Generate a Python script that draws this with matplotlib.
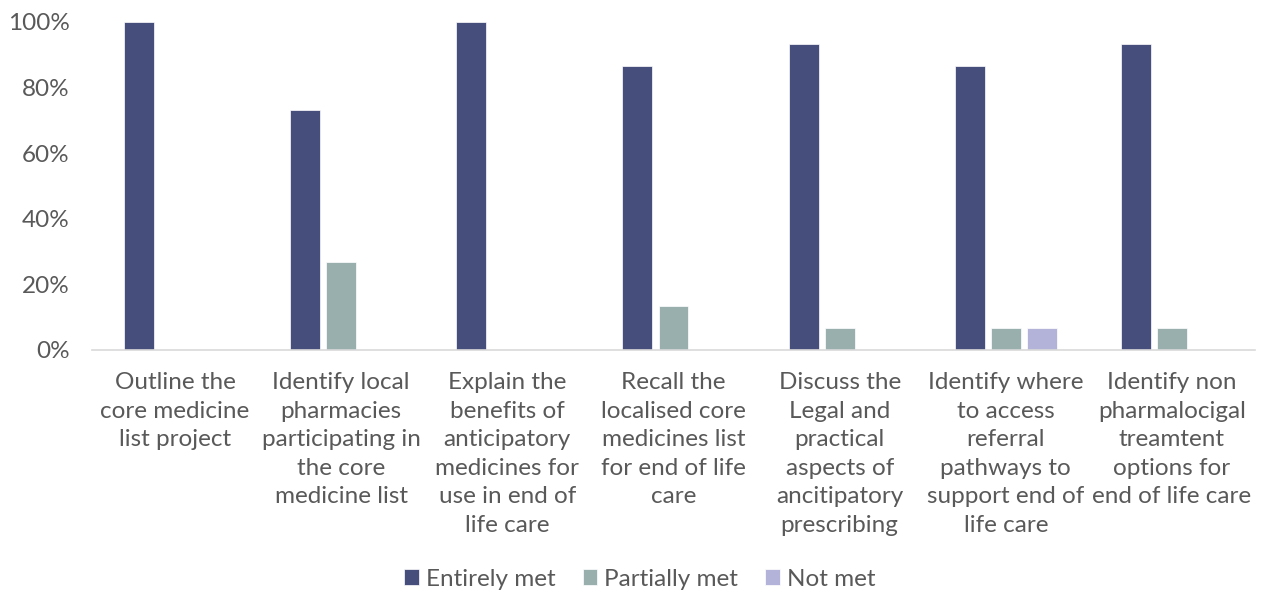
import matplotlib
matplotlib.use("Agg")
import matplotlib.pyplot as plt
import numpy as np
from matplotlib.ticker import FuncFormatter

plt.rcParams["font.family"] = ["Lato", "DejaVu Sans"]

# 学习目标
categories = [
    "Outline the\ncore medicine\nlist project",
    "Identify local\npharmacies\nparticipating in\nthe core\nmedicine list",
    "Explain the\nbenefits of\nanticipatory\nmedicines for\nuse in end of\nlife care",
    "Recall the\nlocalised core\nmedicines list\nfor end of life\ncare",
    "Discuss the\nLegal and\npractical\naspects of\nancitipatory\nprescribing",
    "Identify where\nto access\nreferral\npathways to\nsupport end of\nlife care",
    "Identify non\npharmalocigal\ntreamtent\noptions for\nend of life care",
]
entirely_met = [100, 73.3, 100, 86.7, 93.3, 86.7, 93.3]
partially_met = [0, 26.7, 0, 13.3, 6.7, 6.7, 6.7]
not_met = [0, 0, 0, 0, 0, 6.7, 0]

series = [
    ("Entirely met", entirely_met, "#464E7C"),
    ("Partially met", partially_met, "#98AFAD"),
    ("Not met", not_met, "#B3B3D9"),
]

text_color = "#595959"
font_size = 17.5

fig = plt.figure(figsize=(12.62, 5.95), dpi=100)
ax = fig.add_axes([92 / 1262, 1 - 350 / 595, (1255 - 92) / 1262, (350 - 22) / 595])

x = np.arange(len(categories))
width = 0.18
step = 0.217
for i, (label, values, color) in enumerate(series):
    ax.bar(x + (i - 1) * step, values, width, color=color, label=label,
           edgecolor="white", linewidth=0.5)

ax.set_xlim(-0.5, len(categories) - 0.5)
ax.set_ylim(0, 100)
ax.set_yticks(np.arange(0, 101, 20))
ax.yaxis.set_major_formatter(FuncFormatter(lambda v, _: f"{v:.0f}%"))
ax.set_xticks(x)
ax.set_xticklabels(categories, linespacing=1.44)

ax.tick_params(axis="both", length=0, labelsize=font_size, colors=text_color)
ax.tick_params(axis="x", pad=16)
ax.tick_params(axis="y", pad=16)

for side in ["top", "right", "left"]:
    ax.spines[side].set_visible(False)
ax.spines["bottom"].set_color("#D9D9D9")
ax.spines["bottom"].set_linewidth(1.2)

fig.legend(loc="center", bbox_to_anchor=(0.507, 1 - 579 / 595), ncol=3,
           frameon=False, fontsize=font_size, labelcolor=text_color,
           handlelength=0.6, handleheight=0.6, handletextpad=0.3,
           columnspacing=1.1)

fig.savefig("out.png", dpi=100)
